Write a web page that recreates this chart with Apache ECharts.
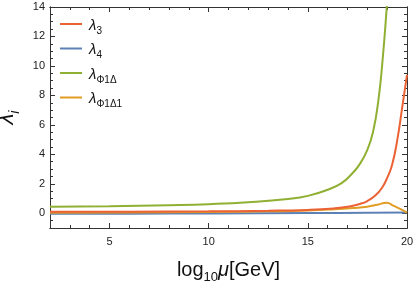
<!DOCTYPE html>
<html><head><meta charset="utf-8">
<script src="https://cdn.jsdelivr.net/npm/echarts@6/dist/echarts.min.js"></script>
<style>html,body{margin:0;padding:0;background:#fff}#c{width:415px;height:284px}</style>
</head><body><div id="c"></div>
<script>
// ---- data ----
const xTicks = [5, 10, 15, 20];
const yTicks = [0, 2, 4, 6, 8, 10, 12, 14];
const seriesNames = ['λ3', 'λ4', 'λΦ1Δ', 'λΦ1Δ1'];
const lam3X = [2, 6, 10, 13, 15, 16.3, 17.1, 17.6, 18, 18.4, 18.75, 19, 19.25, 19.5, 19.75, 20];
const lam3Y = [0.1, 0.11, 0.13, 0.17, 0.23, 0.33, 0.46, 0.62, 0.83, 1.2, 1.75, 2.4, 3.3, 4.9, 7.1, 9.4];
const lam4X = [2, 6, 10, 15, 18, 20];
const lam4Y = [-0.04, -0.03, -0.01, 0.01, 0.03, 0.05];
const lamPDX = [2, 5, 8, 10, 12, 14, 15, 16, 16.7, 17.2, 17.6, 18, 18.3, 18.55, 18.75, 18.98, 19.1];
const lamPDY = [0.45, 0.48, 0.55, 0.62, 0.75, 0.97, 1.18, 1.6, 2.05, 2.65, 3.3, 4.3, 5.6, 7.6, 10.1, 14.0, 16.4];
const lamPD1X = [2, 6, 10, 13, 15, 16.3, 17.3, 18, 18.5, 18.98, 19.3, 19.65, 20];
const lamPD1Y = [0.03, 0.05, 0.08, 0.13, 0.19, 0.27, 0.36, 0.45, 0.58, 0.72, 0.52, 0.3, 0.05];
// ---- style ----
const colors = ['#EB6235', '#5E81B5', '#8FB032', '#E19C24'];
const font = 'Liberation Sans';
const frame = '#333';
const xMin = 2, xMax = 20, yMin = -1, yMax = 14;

function pairs(xs, ys){ return xs.map((x,i)=>[x, ys[i]]); }

function xAx(pos, major, labels){
  return {
    type:'value', position:pos, min:xMin, max:xMax,
    interval: major ? undefined : 1,
    axisLine:{show:true, onZero:false, lineStyle:{color:frame, width:1}},
    axisTick: major ? {show:true, inside:true, length:5, customValues:xTicks, lineStyle:{color:frame}}
                    : {show:true, inside:true, length:3, lineStyle:{color:frame}},
    axisLabel: labels ? {show:true, customValues:xTicks, color:'#222', fontSize:11, fontFamily:font, margin:8}
                      : {show:false},
    splitLine:{show:false}
  };
}
function yAx(pos, major, labels){
  return {
    type:'value', position:pos, min:yMin, max:yMax,
    interval: major ? undefined : 0.5,
    axisLine:{show:true, onZero:false, lineStyle:{color:frame, width:1}},
    axisTick: major ? {show:true, inside:true, length:5, customValues:yTicks, lineStyle:{color:frame}}
                    : {show:true, inside:true, length:3, lineStyle:{color:frame}},
    axisLabel: labels ? {show:true, customValues:yTicks, color:'#222', fontSize:11, fontFamily:font, margin:5}
                      : {show:false},
    splitLine:{show:false}
  };
}

const xAxes = [xAx('bottom', true, true), xAx('bottom', false, false), xAx('top', true, false), xAx('top', false, false)];
xAxes[0].name = '{a|log}{s|10}{m|μ}{a|[GeV]}';
xAxes[0].nameLocation = 'middle';
xAxes[0].nameGap = 30;
xAxes[0].nameTextStyle = {fontFamily:font, color:'#111', rich:{
  a:{fontSize:20, fontFamily:font, color:'#111', lineHeight:22, verticalAlign:'bottom'},
  s:{fontSize:13, fontFamily:font, color:'#111', lineHeight:22, verticalAlign:'bottom', padding:[0,0,-4,0]},
  m:{fontSize:20, fontFamily:font, fontStyle:'italic', color:'#111', lineHeight:22, verticalAlign:'bottom'}
}};
const yAxes = [yAx('left', true, true), yAx('left', false, false), yAx('right', true, false), yAx('right', false, false)];
yAxes[0].name = '{l|λ}{i|i}';
yAxes[0].nameLocation = 'middle';
yAxes[0].nameGap = 29;
yAxes[0].nameTextStyle = {fontFamily:font, color:'#111', rich:{
  l:{fontSize:22, fontFamily:font, fontStyle:'italic', color:'#111', lineHeight:24, verticalAlign:'bottom'},
  i:{fontSize:14, fontFamily:font, fontStyle:'italic', color:'#111', lineHeight:24, verticalAlign:'bottom', padding:[0,0,-4,0]}
}};

const dataSets = [pairs(lam3X, lam3Y), pairs(lam4X, lam4Y), pairs(lamPDX, lamPDY), pairs(lamPD1X, lamPD1Y)];
const subs = {'λ3':'3', 'λ4':'4', 'λΦ1Δ':'Φ1Δ', 'λΦ1Δ1':'Φ1Δ1'};

const chart = echarts.init(document.getElementById('c'), null, {renderer:'canvas'});
chart.setOption({
  animation:false,
  backgroundColor:'#fff',
  color: colors,
  grid:{left:50, right:8, top:7, bottom:56, containLabel:false, outerBoundsMode:'none'},
  xAxis: xAxes,
  yAxis: yAxes,
  legend:{
    orient:'vertical', left:55, top:13,
    icon:'rect', itemWidth:22, itemHeight:2, itemGap:6.5,
    data: seriesNames,
    formatter: n => '{l|λ}{s|' + subs[n] + '}',
    textStyle:{fontFamily:font, padding:[0,0,0,2], rich:{
      l:{fontSize:15, fontFamily:font, fontStyle:'italic', color:'#111', lineHeight:18, verticalAlign:'bottom'},
      s:{fontSize:10, fontFamily:font, color:'#111', lineHeight:18, verticalAlign:'bottom', padding:[0,0,-3,0]}
    }}
  },
  series: seriesNames.map((n,i)=>({
    name:n, type:'line', xAxisIndex:0, yAxisIndex:0,
    data: dataSets[i], smooth:0.5, showSymbol:false, symbol:'none', clip:true,
    lineStyle:{width:2, color:colors[i]}, itemStyle:{color:colors[i]},
    z: [3,1,4,2][i]
  }))
});
</script></body></html>
